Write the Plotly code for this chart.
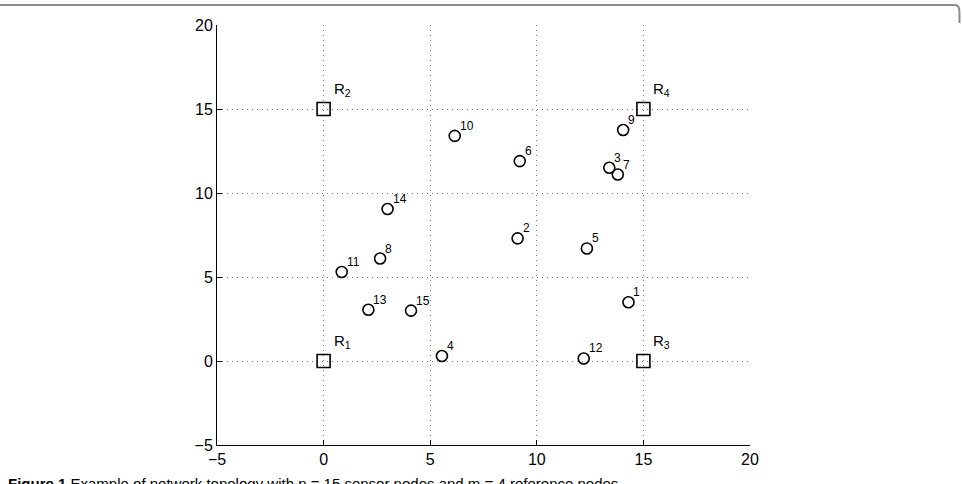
import plotly.graph_objects as go

# Sensor nodes
node_ids = [1, 2, 3, 4, 5, 6, 7, 8, 9, 10, 11, 12, 13, 14, 15]
node_x = [14.3, 9.1, 13.4, 5.55, 12.35, 9.2, 13.8, 2.65, 14.05, 6.15, 0.85, 12.2, 2.1, 3.0, 4.1]
node_y = [3.5, 7.3, 11.5, 0.3, 6.7, 11.9, 11.1, 6.1, 13.75, 13.4, 5.3, 0.15, 3.05, 9.05, 3.0]

# Reference nodes
ref_ids = [1, 2, 3, 4]
ref_x = [0, 0, 15, 15]
ref_y = [0, 15, 0, 15]

tick_vals = [-5, 0, 5, 10, 15, 20]
tick_text = ["\u22125", "0", "5", "10", "15", "20"]

caption = "<b>Figure 1</b> Example of network topology with n = 15 sensor nodes and m = 4 reference nodes."

FONT = "Liberation Sans, Arial, Helvetica, sans-serif"

fig = go.Figure()
fig.add_trace(go.Scatter(
    x=node_x, y=node_y, mode="markers",
    marker=dict(symbol="circle-open", size=11, color="black", line=dict(width=1.6, color="black")),
    showlegend=False, hoverinfo="skip"))
fig.add_trace(go.Scatter(
    x=ref_x, y=ref_y, mode="markers",
    marker=dict(symbol="square-open", size=13, color="black", line=dict(width=1.6, color="black")),
    showlegend=False, hoverinfo="skip"))

annotations = []
for i, xv, yv in zip(node_ids, node_x, node_y):
    annotations.append(dict(x=xv, y=yv, xref="x", yref="y", text=str(i), showarrow=False,
                            xanchor="left", yanchor="bottom", xshift=3, yshift=1,
                            font=dict(family=FONT, size=12, color="black")))
for i, xv, yv in zip(ref_ids, ref_x, ref_y):
    annotations.append(dict(x=xv, y=yv, xref="x", yref="y", text=f"R<sub>{i}</sub>", showarrow=False,
                            xanchor="left", yanchor="bottom", xshift=8, yshift=8,
                            font=dict(family=FONT, size=15, color="black")))
annotations.append(dict(x=-0.395, y=-0.066, xref="paper", yref="paper", text=caption, showarrow=False,
                        xanchor="left", yanchor="top",
                        font=dict(family=FONT, size=15, color="black")))

axis_common = dict(
    range=[-5, 20], tickmode="array", tickvals=tick_vals, ticktext=tick_text,
    showgrid=True, gridcolor="#7a7a7a", gridwidth=1, griddash="1px,4px",
    zeroline=False, showline=True, linecolor="black", linewidth=1,
    ticks="inside", ticklen=5, tickcolor="black", tickwidth=1,
    tickfont=dict(family=FONT, size=16, color="black"),
)

fig.update_layout(
    width=962, height=484,
    margin=dict(l=217, r=212, t=25, b=39),
    paper_bgcolor="white", plot_bgcolor="white",
    xaxis=dict(**axis_common),
    yaxis=dict(**axis_common),
    annotations=annotations,
    shapes=[dict(type="path", xref="paper", yref="paper",
                 path="M -0.41 1.0476 L 1.385 1.0476 Q 1.393 1.0476 1.393 1.03 L 1.393 1.005",
                 line=dict(color="#8c8c8c", width=2))],
)

fig.write_html("out.html")
